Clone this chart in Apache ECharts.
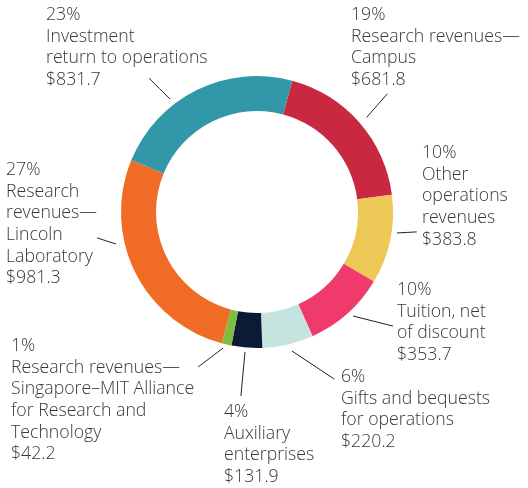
<!DOCTYPE html>
<html>
<head>
<meta charset="utf-8">
<script src="https://cdn.jsdelivr.net/npm/echarts@6/dist/echarts.min.js"></script>
<style>
  html, body { margin: 0; padding: 0; background: #fff; }
  #chart { width: 528px; height: 488px; }
</style>
</head>
<body>
<div id="chart"></div>
<script>
// slices, clockwise from the top
const names = [
    'Research revenues—\nCampus',
    'Other\noperations\nrevenues',
    'Tuition, net\nof discount',
    'Gifts and bequests\nfor operations',
    'Auxiliary\nenterprises',
    'Research revenues—\nSingapore–MIT Alliance\nfor Research and\nTechnology',
    'Research\nrevenues—\nLincoln\nLaboratory',
    'Investment\nreturn to operations'
];
const values = [681.8, 383.8, 353.7, 220.2, 131.9, 42.2, 981.3, 831.7];
const pctLabels = ['19%', '10%', '10%', '6%', '4%', '1%', '27%', '23%'];
const colors = ['#c92841', '#edc856', '#f03a6b', '#c6e4df', '#0c1a35', '#7fbd42', '#f06b25', '#3297a9'];

// label block top-left corners
const labelPos = [[351, 4], [422, 142], [397, 279], [341, 366], [224, 401], [11, 335], [6, 159], [46, 4]];
// leader lines: [angle, radius] near the ring, [angle, radius] near the text (deg clockwise from 12 o'clock)
const guides = [
    [49.2, 145, 47.8, 176],
    [98.5, 141.6, 97.1, 161],
    [137.3, 141.5, 130, 177.5],
    [165.9, 143.3, 155.2, 184],
    [184.9, 140.5, 185, 184.7],
    [194, 140.2, 200.8, 165.8],
    [257.2, 144.6, 260.8, 162],
    [-37.6, 142.6, -38.9, 172]
];

const cx = 257, cy = 212;
function polar(a, r) {
    const t = a * Math.PI / 180;
    return [cx + r * Math.sin(t), cy - r * Math.cos(t)];
}

const chart = echarts.init(document.getElementById('chart'));
chart.setOption({
    animation: false,
    series: [
        {
            type: 'pie',
            center: [cx, cy],
            radius: [101, 136],
            startAngle: 75,
            clockwise: true,
            avoidLabelOverlap: false,
            itemStyle: { borderWidth: 0 },
            emphasis: { disabled: true },
            label: {
                show: true,
                position: 'outside',
                color: '#383838',
                fontFamily: '"Open Sans"',
                fontWeight: 300,
                fontSize: 17.7,
                lineHeight: 21.7,
                formatter: (p) => pctLabels[p.dataIndex] + '\n' + p.name + '\n$' + p.value.toFixed(1)
            },
            labelLine: {
                show: true,
                lineStyle: { color: '#222', width: 1 }
            },
            labelLayout: (params) => {
                const i = params.dataIndex;
                const g = guides[i];
                const p0 = polar(g[0], g[1]);
                const p1 = polar(g[2], g[3]);
                return {
                    x: labelPos[i][0],
                    y: labelPos[i][1],
                    align: 'left',
                    verticalAlign: 'top',
                    labelLinePoints: [p0, [(p0[0] + p1[0]) / 2, (p0[1] + p1[1]) / 2], p1]
                };
            },
            data: names.map((n, i) => ({
                name: n,
                value: values[i],
                itemStyle: { color: colors[i] }
            }))
        }
    ]
});
</script>
</body>
</html>
